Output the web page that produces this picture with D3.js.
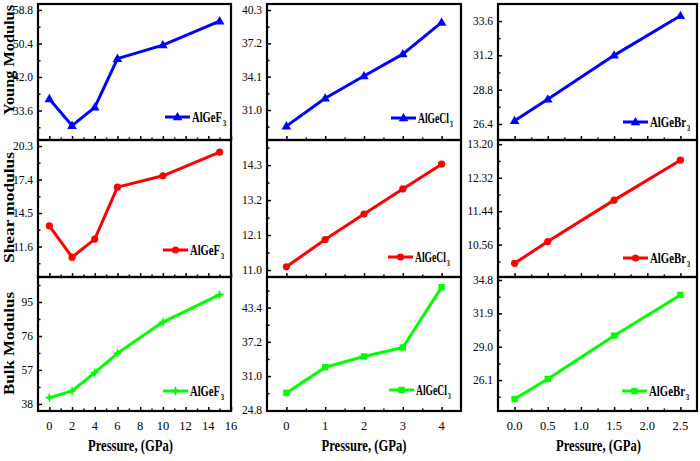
<!DOCTYPE html>
<html><head><meta charset="utf-8">
<script src="https://cdn.jsdelivr.net/npm/d3@7"></script>
<style>html,body{margin:0;padding:0;background:#fff;}svg{display:block;}
svg text{font-family:"Liberation Serif","Times New Roman","DejaVu Serif",serif;}</style>
</head><body>
<svg id="chart" width="700" height="461"></svg>
<script>
// ---- data ----
const pressureF  = [0, 2, 4, 6, 10, 15];
const pressureCl = [0, 1, 2, 3, 4];
const pressureBr = [0, 0.5, 1.5, 2.5];

const youngF  = [36.5, 29.8, 34.4, 46.6, 50.0, 56.0];
const shearF  = [13.39, 10.68, 12.24, 16.74, 17.72, 19.77];
const bulkF   = [41.5, 45.3, 55.5, 66.3, 83.8, 99.1];

const youngCl = [29.5, 32.09, 34.16, 36.2, 39.15];
const shearCl = [11.1, 11.96, 12.76, 13.55, 14.33];
const bulkCl  = [27.95, 32.6, 34.55, 36.17, 47.1];

const youngBr = [26.63, 28.13, 31.2, 33.97];
const shearBr = [10.07, 10.64, 11.73, 12.78];
const bulkBr  = [24.45, 26.19, 29.96, 33.5];

const xTicksF  = [0, 2, 4, 6, 8, 10, 12, 14, 16];
const xTicksCl = [0, 1, 2, 3, 4];
const xTicksBr = [0, 0.5, 1.0, 1.5, 2.0, 2.5];

const yTicksYoungF  = [33.6, 42.0, 50.4, 58.8];
const yTicksShearF  = [11.6, 14.5, 17.4, 20.3];
const yTicksBulkF   = [38, 57, 76, 95];
const yTicksYoungCl = [31.0, 34.1, 37.2, 40.3];
const yTicksShearCl = [11.0, 12.1, 13.2, 14.3];
const yTicksBulkCl  = [24.8, 31.0, 37.2, 43.4];
const yTicksYoungBr = [26.4, 28.8, 31.2, 33.6];
const yTicksShearBr = [10.56, 11.44, 12.32, 13.20];
const yTicksBulkBr  = [26.1, 29.0, 31.9, 34.8];

const rowTitles = ["Young Modulus", "Shear modulus", "Bulk Modulus"];
const xTitle = "Pressure, (GPa)";
const compounds = [["AlGeF", "3"], ["AlGeCl", "3"], ["AlGeBr", "3"]];

// ---- layout ----
const colX = [[38, 231], [267, 461], [498, 697]];
const rowY = [[4, 140], [140, 277], [277, 411]];
const xDomains = [[-1, 16], [-0.5, 4.5], [-0.25, 2.75]];
const xFormats = [d3.format("d"), d3.format("d"), d3.format(".1f")];
const yDomains = [
  [[26.2, 60.3], [28.21, 40.86], [25.28, 34.79]],
  [[8.96, 20.82], [10.78, 15.09], [9.71, 13.31]],
  [[34.07, 108.97], [24.67, 48.95], [23.41, 35.06]]
];
const yFormats = [
  [d3.format(".1f"), d3.format(".1f"), d3.format(".1f")],
  [d3.format(".1f"), d3.format(".1f"), d3.format(".2f")],
  [d3.format("d"), d3.format(".1f"), d3.format(".1f")]
];
const colors = ["#0000ff", "#ff0000", "#00ff00"];
const legendPos = [
  [[165, 117], [391, 118], [623, 122]],
  [[163, 250], [388, 257], [623, 258]],
  [[163, 391], [389, 390], [622, 391]]
];
const legendTextLen = [30, 31, 36];

const xs = [pressureF, pressureCl, pressureBr];
const series = [[youngF, youngCl, youngBr], [shearF, shearCl, shearBr], [bulkF, bulkCl, bulkBr]];
const xTicks = [xTicksF, xTicksCl, xTicksBr];
const yTicks = [
  [yTicksYoungF, yTicksYoungCl, yTicksYoungBr],
  [yTicksShearF, yTicksShearCl, yTicksShearBr],
  [yTicksBulkF, yTicksBulkCl, yTicksBulkBr]
];

const svg = d3.select("#chart");

function star4(s) {
  const a = s, b = s * 0.28;
  return `M0,${-a}L${b},${-b}L${a},0L${b},${b}L0,${a}L${-b},${b}L${-a},0L${-b},${-b}Z`;
}
function marker(g, r, c, x, y) {
  const col = colors[r];
  if (r === 0) {
    g.append("path").attr("d", d3.symbol(d3.symbolTriangle, 40)())
      .attr("transform", `translate(${x},${y + 0.5})`).attr("fill", col);
  } else if (r === 1) {
    g.append("circle").attr("cx", x).attr("cy", y).attr("r", 3.6).attr("fill", col);
  } else {
    if (c === 0) {
      g.append("path").attr("d", star4(5)).attr("transform", `translate(${x},${y})`).attr("fill", col);
    } else {
      g.append("rect").attr("x", x - 3.2).attr("y", y - 3.2).attr("width", 6.4).attr("height", 6.4).attr("fill", col);
    }
  }
}

function minorOf(ticks, domain) {
  const out = [];
  const step = ticks[1] - ticks[0];
  const all = [ticks[0] - step].concat(ticks, [ticks[ticks.length - 1] + step]);
  for (let i = 0; i < all.length - 1; i++) {
    const m = (all[i] + all[i + 1]) / 2;
    if (m > domain[0] && m < domain[1]) out.push(m);
  }
  return out;
}

for (let r = 0; r < 3; r++) {
  for (let c = 0; c < 3; c++) {
    const x = d3.scaleLinear().domain(xDomains[c]).range(colX[c]);
    const y = d3.scaleLinear().domain(yDomains[r][c]).range([rowY[r][1], rowY[r][0]]);
    const g = svg.append("g");

    // data line
    const pts = xs[c].map((p, i) => [p, series[r][c][i]]);
    g.append("path").datum(pts)
      .attr("d", d3.line().x(d => x(d[0])).y(d => y(d[1])))
      .attr("fill", "none").attr("stroke", colors[r]).attr("stroke-width", 3)
      .attr("stroke-linejoin", "round");
    pts.forEach(d => marker(g, r, c, x(d[0]), y(d[1])));

    // y axis ticks (inward) and labels
    const yAx = d3.axisRight(y).tickValues(yTicks[r][c]).tickSize(4).tickFormat("");
    g.append("g").attr("transform", `translate(${colX[c][0]},0)`).call(yAx)
      .call(s => s.select(".domain").remove())
      .call(s => s.selectAll("line").attr("stroke-width", 1.5));
    const yMin = d3.axisRight(y).tickValues(minorOf(yTicks[r][c], yDomains[r][c])).tickSize(2.5).tickFormat("");
    g.append("g").attr("transform", `translate(${colX[c][0]},0)`).call(yMin)
      .call(s => s.select(".domain").remove())
      .call(s => s.selectAll("line").attr("stroke-width", 1.5));
    g.selectAll(null).data(yTicks[r][c]).enter().append("text")
      .attr("x", colX[c][0] - 5).attr("y", d => y(d)).attr("dy", "0.35em")
      .attr("text-anchor", "end").attr("font-size", 11.5)
      .text(d => yFormats[r][c](d));

    // x axis ticks (inward)
    const xAx = d3.axisTop(x).tickValues(xTicks[c]).tickSize(4).tickFormat("");
    g.append("g").attr("transform", `translate(0,${rowY[r][1]})`).call(xAx)
      .call(s => s.select(".domain").remove())
      .call(s => s.selectAll("line").attr("stroke-width", 1.5));
    const xMin = d3.axisTop(x).tickValues(minorOf(xTicks[c], xDomains[c])).tickSize(2.5).tickFormat("");
    g.append("g").attr("transform", `translate(0,${rowY[r][1]})`).call(xMin)
      .call(s => s.select(".domain").remove())
      .call(s => s.selectAll("line").attr("stroke-width", 1.5));
    if (r === 2) {
      g.selectAll(null).data(xTicks[c]).enter().append("text")
        .attr("x", d => x(d)).attr("y", rowY[r][1] + 18.5)
        .attr("text-anchor", "middle").attr("font-size", 12.5)
        .text(d => xFormats[c](d));
    }

    // frame
    g.append("rect").attr("x", colX[c][0]).attr("y", rowY[r][0])
      .attr("width", colX[c][1] - colX[c][0]).attr("height", rowY[r][1] - rowY[r][0])
      .attr("fill", "none").attr("stroke", "#000").attr("stroke-width", 2.2);

    // legend
    const [lx, ly] = legendPos[r][c];
    g.append("line").attr("x1", lx).attr("x2", lx + 25).attr("y1", ly).attr("y2", ly)
      .attr("stroke", colors[r]).attr("stroke-width", 3);
    marker(g, r, c, lx + 12.5, ly);
    const t = g.append("text").attr("font-weight", "bold").attr("font-size", 14);
    const main = t.append("tspan").text(compounds[c][0]);
    t.append("tspan").attr("dx", 1).attr("dy", 4).attr("font-size", 9).text(compounds[c][1]);
    const nat = main.node().getComputedTextLength() || legendTextLen[c];
    const sx = legendTextLen[c] / nat;
    t.attr("transform", `translate(${lx + 27},${ly + 5}) scale(${sx},1)`);
  }
}

// row titles
const rowTitleY = [60, 207.5, 343.5];
const rowTitleLen = [110, 111, 103];
rowTitles.forEach((tt, r) => {
  svg.append("text").attr("transform", `translate(13.5,${rowTitleY[r]}) rotate(-90)`)
    .attr("text-anchor", "middle")
    .attr("font-weight", "bold").attr("font-size", 15.5)
    .attr("textLength", rowTitleLen[r]).attr("lengthAdjust", "spacingAndGlyphs")
    .text(tt);
});
// x titles
[130.5, 364, 598.5].forEach(cxm => {
  svg.append("text").attr("x", cxm).attr("y", 451)
    .attr("text-anchor", "middle").attr("font-weight", "bold")
    .attr("font-size", 16)
    .attr("textLength", 85).attr("lengthAdjust", "spacingAndGlyphs")
    .text(xTitle);
});
</script>
</body></html>
